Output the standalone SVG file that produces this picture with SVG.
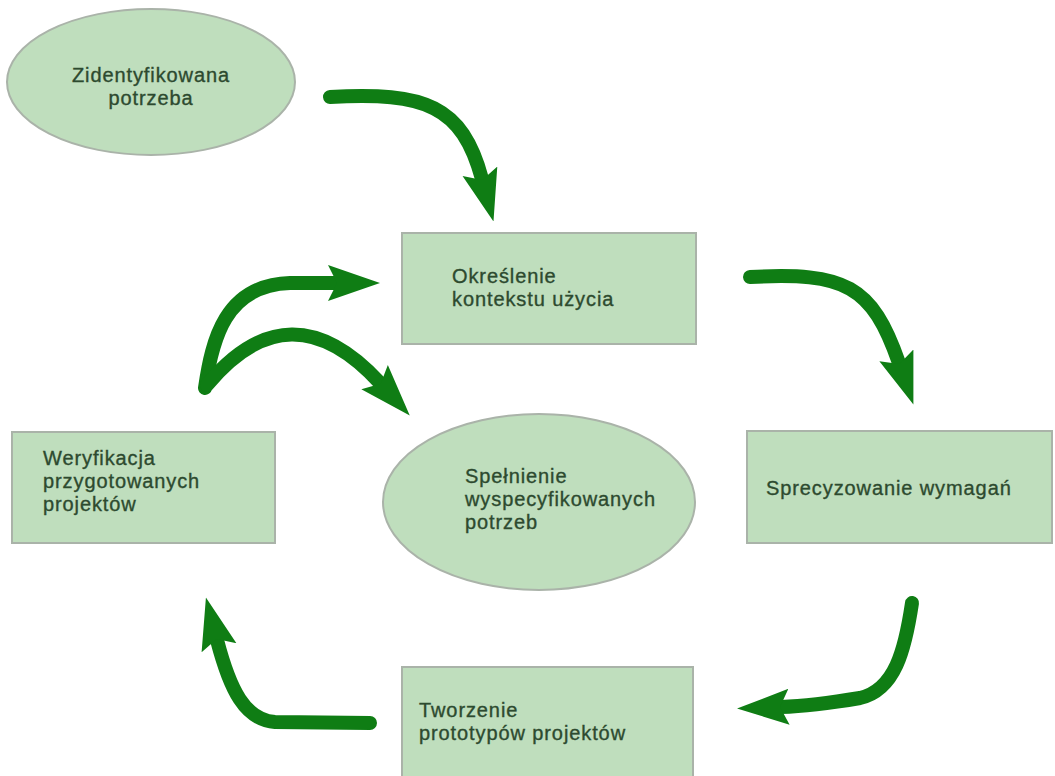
<svg xmlns="http://www.w3.org/2000/svg" width="1055" height="776" viewBox="0 0 1055 776">
<style>
.node{fill:#bfdebd;stroke:#aab3a9;stroke-width:2}
.lbl{font-family:"Liberation Sans",Arial,sans-serif;font-size:20px;letter-spacing:0.9px;fill:#2d4a2f;stroke:#2d4a2f;stroke-width:0.35}
.arr{fill:none;stroke:#0f7d14;stroke-width:14;stroke-linecap:round;stroke-linejoin:round;marker-end:url(#ah)}
</style>
<defs>
<marker id="ah" viewBox="0 0 52 38" refX="8" refY="19" markerWidth="52" markerHeight="38" markerUnits="userSpaceOnUse" orient="auto">
<polygon points="0,1 52,19 0,37 9,19" fill="#0f7d14"/>
</marker>
</defs>
<rect width="1055" height="776" fill="#ffffff"/>
<g id="n1"><ellipse class="node" cx="151" cy="82" rx="144" ry="73"/><text class="lbl" text-anchor="middle"><tspan x="151" y="82">Zidentyfikowana</tspan><tspan x="151" y="105">potrzeba</tspan></text></g>
<g id="n2"><rect class="node" x="402" y="233" width="294" height="111"/><text class="lbl"><tspan x="452" y="283">Określenie</tspan><tspan x="452" y="306">kontekstu użycia</tspan></text></g>
<g id="n3"><rect class="node" x="747" y="431" width="305" height="112"/><text class="lbl" x="766" y="495">Sprecyzowanie wymagań</text></g>
<g id="n4"><rect class="node" x="402" y="667" width="291" height="115"/><text class="lbl"><tspan x="419" y="717">Tworzenie</tspan><tspan x="419" y="740">prototypów projektów</tspan></text></g>
<g id="n5"><rect class="node" x="12" y="432" width="263" height="111"/><text class="lbl"><tspan x="43" y="465">Weryfikacja</tspan><tspan x="43" y="488">przygotowanych</tspan><tspan x="43" y="511">projektów</tspan></text></g>
<g id="n6"><ellipse class="node" cx="539" cy="502" rx="156" ry="88"/><text class="lbl"><tspan x="465" y="483">Spełnienie</tspan><tspan x="465" y="506">wyspecyfikowanych</tspan><tspan x="465" y="529">potrzeb</tspan></text></g>
<g id="connectors">
<path class="arr" d="M 330 97 C 425 92, 462 105, 482 179"/>
<path class="arr" d="M 750 277 C 845 272, 872 285, 899 363"/>
<path class="arr" d="M 912 603 C 905 650, 895 690, 860 698 C 830 703, 810 706, 781 707"/>
<path class="arr" d="M 370 723 L 275 722 C 245 720, 230 690, 217 640"/>
<path class="arr" d="M 205 388 C 212 340, 225 285, 290 283 L 336 283"/>
<path class="arr" d="M 207 385 Q 290 285, 380 383"/>
</g>
</svg>
